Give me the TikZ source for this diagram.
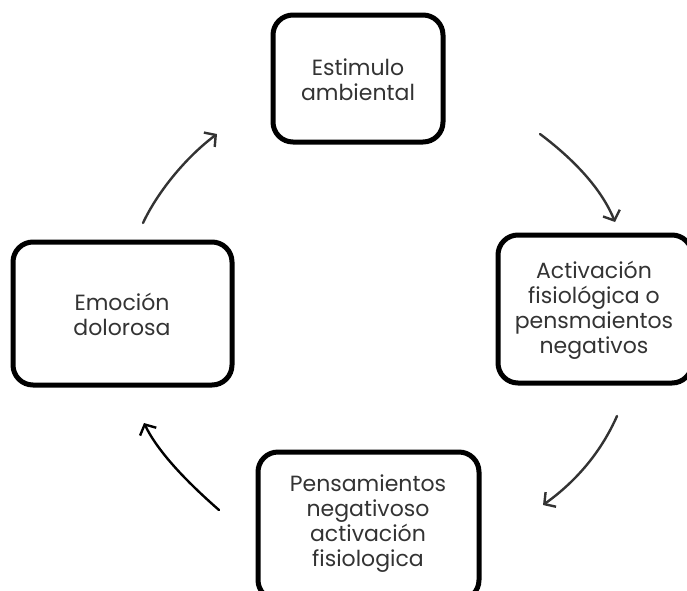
\documentclass[tikz,border=0pt]{standalone}
\usepackage{fontspec}
\setmainfont{Poppins}
\usetikzlibrary{arrows.meta}
\definecolor{inkgray}{HTML}{333333}
\definecolor{txtgray}{HTML}{333333}
\tikzset{
  stagebox/.style={draw=black, line width=5pt, rounded corners=20pt, fill=white},
  stagetext/.style={align=center, text=txtgray, font=\fontsize{22}{25}\selectfont},
  cyclearrow/.style={line width=2.4pt, line cap=round, draw=inkgray,
    -{Straight Barb[length=8pt,width=18pt,line width=2.4pt]}},
}
\begin{document}
\begin{tikzpicture}[x=1pt,y=-1pt]
  \useasboundingbox (0,0) rectangle (687,590);
  \clip (0,0) rectangle (687,590);

  % the four stages of the cycle
  \draw[stagebox] (273,15) rectangle (443,142);
  \node[stagetext] (estimulo) at (358,80) {Estimulo\\ambiental};

  \draw[stagebox] (498,235) rectangle (692,383);
  \node[stagetext] (activacion) at (594,310) {Activación\\fisiológica o\\pensmaientos\\negativos};

  \draw[stagebox] (258,452) rectangle (479,600);
  \node[stagetext] (pensamientos) at (368,524) {Pensamientos\\negativoso\\activación\\fisiologica};

  \draw[stagebox] (13,242) rectangle (232,385);
  \node[stagetext] (emocion) at (122,314) {Emoción\\dolorosa};

  % arrow end points
  \coordinate (a1s) at (143,223); \coordinate (a1e) at (217,134);
  \coordinate (a2s) at (540,134); \coordinate (a2e) at (615,222);
  \coordinate (a3s) at (617,416); \coordinate (a3e) at (543,505);
  \coordinate (a4s) at (219,510); \coordinate (a4e) at (144,423);

  % curved arrows running clockwise
  \draw[cyclearrow] (a1s) .. controls (157,193) and (185,158) .. (a1e);
  \draw[cyclearrow] (a2s) .. controls (568,155) and (600,185) .. (a2e);
  \draw[cyclearrow] (a3s) .. controls (602,450) and (578,480) .. (a3e);
  \draw[cyclearrow, draw=black] (a4s) .. controls (187,482) and (158,452) .. (a4e);
\end{tikzpicture}
\end{document}
